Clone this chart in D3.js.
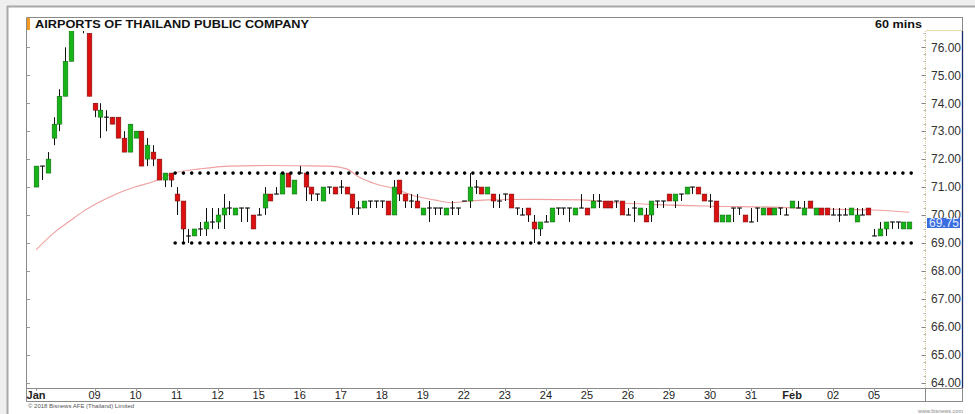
<!DOCTYPE html>
<html><head><meta charset="utf-8">
<script src="https://cdn.jsdelivr.net/npm/d3@7"></script>
<style>
body{margin:0;background:#fff;}
svg{display:block;font-family:"Liberation Sans",Arial,sans-serif;}
</style>
</head><body>
<svg id="chart" width="975" height="414"></svg>
<script>
// ---------------- DATA ----------------
const titleText = "AIRPORTS OF THAILAND PUBLIC COMPANY";
const intervalText = "60 mins";
const copyrightText = "\u00A9 2018 Bisnews AFE (Thailand) Limited";
const siteText = "www.bisnews.com";

const opens = [71.0,71.75,71.5,72.75,73.25,74.25,75.5,76.8,77.0,76.5,
74.0,73.5,73.5,73.5,73.5,72.75,72.25,72.75,73.0,72.0,
72.25,72.0,71.25,71.5,70.75,70.5,69.25,69.25,69.5,69.5,
69.75,69.75,70.0,70.25,70.0,70.25,70.25,70.0,70.0,70.25,
70.75,70.75,70.75,71.5,70.75,71.5,71.5,71.0,70.75,70.5,
71.0,71.0,71.0,71.0,70.75,70.25,70.25,70.5,70.5,70.5,
70.5,70.0,71.25,70.75,70.5,70.5,70.0,70.25,70.25,70.25,
70.0,70.25,70.25,70.5,70.5,71.0,71.0,70.75,70.75,70.5,
70.75,70.75,70.25,70.0,70.25,69.75,69.5,69.75,69.75,70.25,
70.25,70.25,70.0,70.25,70.25,70.25,70.5,70.5,70.5,70.5,
70.5,70.0,70.25,70.0,70.0,70.0,70.5,70.5,70.75,70.5,
70.75,70.75,71.0,71.0,70.75,70.5,70.5,69.75,69.75,70.25,
70.25,70.0,69.75,70.25,70.0,70.25,70.0,70.25,70.0,70.25,
70.25,70.0,70.5,70.0,70.25,70.25,70.0,70.0,70.0,70.0,
69.75,70.0,70.25,69.25,69.25,69.5,69.75,69.75,69.5,69.5];
const highs = [71.75,71.75,72.25,73.5,74.5,76.0,77.0,77.3,77.2,76.5,
74.0,74.0,73.75,73.5,73.5,73.0,73.25,73.0,73.0,72.75,
72.5,72.0,71.5,71.5,71.0,70.5,69.5,69.5,69.75,70.25,
70.25,70.25,70.75,70.5,70.25,70.25,70.25,70.0,70.25,71.0,
70.75,71.0,71.5,71.5,71.25,71.75,71.5,71.0,70.75,71.0,
71.0,71.0,71.25,71.0,70.75,70.5,70.5,70.5,70.5,70.5,
70.5,71.25,71.25,70.75,70.75,70.75,70.25,70.5,70.25,70.25,
70.25,70.5,70.25,70.5,71.5,71.25,71.0,71.0,70.75,70.75,
70.75,70.75,70.25,70.25,70.25,70.0,69.75,70.0,70.25,70.25,
70.25,70.25,70.25,70.75,70.25,70.75,70.75,70.5,70.5,70.5,
70.5,70.25,70.5,70.25,70.25,70.5,70.5,70.5,70.75,70.75,
70.75,71.0,71.0,71.0,70.75,70.75,70.5,70.0,70.0,70.25,
70.25,70.0,70.25,70.25,70.25,70.25,70.25,70.25,70.25,70.5,
70.5,70.5,70.5,70.25,70.25,70.25,70.25,70.25,70.25,70.25,
70.25,70.25,70.25,69.5,69.75,69.75,69.75,69.75,69.75,69.75];
const lows = [71.0,71.25,71.5,72.5,73.0,74.25,75.5,76.7,76.5,74.25,
73.5,72.75,73.0,73.25,72.75,72.25,72.25,72.75,71.75,71.75,
71.75,71.25,71.0,71.0,70.0,69.0,69.0,69.25,69.25,69.25,
69.5,69.5,69.5,70.0,70.0,69.75,69.75,69.5,70.0,70.0,
70.5,70.75,70.75,71.0,70.75,71.5,70.5,70.5,70.5,70.5,
70.75,70.75,70.75,70.75,70.0,70.0,70.25,70.25,70.25,70.25,
70.0,70.0,70.5,70.25,70.25,70.25,70.0,69.75,70.0,70.0,
70.0,70.0,70.0,70.5,70.25,70.75,70.75,70.75,70.25,70.25,
70.5,70.25,70.0,70.0,69.75,69.0,69.25,69.75,69.75,70.0,
70.0,69.75,70.0,70.25,70.0,70.25,70.25,70.25,70.25,70.25,
70.0,70.0,69.75,70.0,69.75,69.75,70.25,70.25,70.5,70.25,
70.5,70.75,70.75,70.75,70.5,70.25,69.75,69.75,69.75,69.75,
70.0,69.75,69.75,69.75,70.0,70.0,70.0,70.0,70.0,70.25,
70.25,70.0,70.25,70.0,70.0,70.0,70.0,69.75,70.0,70.0,
69.75,70.0,70.0,69.25,69.25,69.25,69.5,69.5,69.5,69.5];
const closes = [71.75,71.75,72.0,73.25,74.25,75.5,76.8,77.1,76.8,74.25,
73.75,73.75,73.5,73.25,72.75,72.25,73.25,73.0,71.75,72.5,
72.0,71.25,71.5,71.25,70.5,69.5,69.25,69.5,69.5,69.75,
69.75,70.0,70.25,70.25,70.25,70.25,70.25,69.5,70.0,70.75,
70.5,70.75,71.5,71.0,71.25,71.5,71.0,70.75,70.75,71.0,
71.0,70.75,71.0,70.75,70.25,70.25,70.5,70.5,70.5,70.5,
70.0,71.0,70.75,70.5,70.5,70.25,70.25,70.25,70.25,70.25,
70.25,70.25,70.25,70.5,71.0,71.0,70.75,71.0,70.5,70.5,
70.75,70.25,70.25,70.0,70.0,69.5,69.75,69.75,70.25,70.25,
70.25,70.25,70.25,70.25,70.0,70.5,70.5,70.25,70.25,70.5,
70.0,70.0,70.25,70.25,69.75,70.5,70.5,70.5,70.5,70.75,
70.75,71.0,71.0,70.75,70.5,70.5,69.75,70.0,70.0,70.25,
70.25,69.75,69.75,70.25,70.25,70.0,70.25,70.25,70.0,70.5,
70.25,70.25,70.25,70.25,70.0,70.0,70.0,70.0,70.0,70.25,
70.0,70.0,70.0,69.25,69.5,69.75,69.75,69.75,69.75,69.75];

// moving-average line, read at these bar positions
const maBar   = [0,3,6,8,11,14,17,20,22,24,28,33,40,45,50,53,55,58,61,65,68,71,73,77,85,93,99,105,114,126,137,143,149];
const maValue = [68.75,69.35,69.82,70.12,70.48,70.78,71.01,71.19,71.37,71.52,71.65,71.75,71.77,71.76,71.75,71.65,71.37,71.11,70.95,70.66,70.54,70.44,70.48,70.54,70.56,70.54,70.44,70.38,70.32,70.28,70.2,70.18,70.1];

// day labels on the time axis and the bar where each day starts
const dayLabels   = ["Jan","09","10","11","12","15","16","17","18","19","22","23","24","25","26","29","30","31","Feb","02","05"];
const dayStartBar = [0,10,17,24,31,38,45,52,59,66,73,80,87,94,101,108,115,122,129,136,143];
const monthLabels = ["Jan","Feb"];

const yTickValues = [64,65,66,67,68,69,70,71,72,73,74,75,76];

// dotted range lines
const rangeLevels   = [71.5, 69.0];
const rangeStartBar = 24;
const rangeEndBar   = 149;

const lastPrice = 69.75;

// ---------------- DRAW ----------------
const svg = d3.select("#chart");
const W = 975, H = 414;
const plot = {left: 27, right: 925, top: 31, bottom: 388};

const n = opens.length;
const x = d3.scaleLinear().domain([0, n - 1]).range([36, 909.3]);
const step = x(1) - x(0);
const bodyW = step * 0.8;
const y = d3.scaleLinear().domain([64, 76]).range([382.7, 47.3]);

// outer background / frame
svg.append("rect").attr("x",0).attr("y",0).attr("width",W).attr("height",H).attr("fill","#efefef");
svg.append("rect").attr("x",8).attr("y",7).attr("width",W-8).attr("height",H-7).attr("fill","#fff");
svg.append("line").attr("x1",7).attr("x2",W).attr("y1",6.5).attr("y2",6.5).attr("stroke","#a8a8a8").attr("stroke-width",2);
svg.append("line").attr("x1",7.5).attr("x2",7.5).attr("y1",6).attr("y2",H).attr("stroke","#a8a8a8").attr("stroke-width",2);

// chart box
const box = svg.append("g");
box.append("line").attr("x1",26.5).attr("x2",963).attr("y1",17.5).attr("y2",17.5).attr("stroke","#8a8a8a");
box.append("line").attr("x1",26.5).attr("x2",26.5).attr("y1",17.5).attr("y2",401.5).attr("stroke","#8a8a8a");
box.append("line").attr("x1",962.5).attr("x2",962.5).attr("y1",17.5).attr("y2",31).attr("stroke","#8a8a8a");
box.append("line").attr("x1",962.5).attr("x2",962.5).attr("y1",31).attr("y2",388.5).attr("stroke","#1b2a6e").attr("stroke-width",1.3);
box.append("line").attr("x1",26.5).attr("x2",963).attr("y1",388.5).attr("y2",388.5).attr("stroke","#8a8a8a");
box.append("line").attr("x1",26.5).attr("x2",963).attr("y1",401.5).attr("y2",401.5).attr("stroke","#8a8a8a");
box.append("line").attr("x1",962.5).attr("x2",962.5).attr("y1",388.5).attr("y2",401.5).attr("stroke","#8a8a8a");
box.append("line").attr("x1",925.5).attr("x2",925.5).attr("y1",388.5).attr("y2",401.5).attr("stroke","#8a8a8a");
// y-axis area top border
box.append("line").attr("x1",926).attr("x2",962).attr("y1",30.5).attr("y2",30.5).attr("stroke","#eadca8");
// orange marker
box.append("rect").attr("x",27).attr("y",18).attr("width",3).attr("height",12).attr("fill","#f39a1e");

// header texts
svg.append("text").attr("x",35).attr("y",27.5).attr("font-size",10.5).attr("font-weight","bold")
  .attr("fill","#111").attr("textLength",274).attr("lengthAdjust","spacingAndGlyphs").text(titleText);
svg.append("text").attr("x",875).attr("y",27.5).attr("font-size",10.5).attr("font-weight","bold")
  .attr("fill","#111").attr("textLength",47).attr("lengthAdjust","spacingAndGlyphs").text(intervalText);

// y axis: dotted vertical line + ticks + labels
svg.append("line").attr("x1",925.5).attr("x2",925.5).attr("y1",31).attr("y2",388)
  .attr("stroke","#d9c98c").attr("stroke-dasharray","1,1");
const minorTicks = d3.range(64, 76.6, 0.25);
svg.append("g").selectAll("line").data(minorTicks).join("line")
  .attr("x1",923.5).attr("x2",926).attr("y1",d=>Math.round(y(d))+0.5).attr("y2",d=>Math.round(y(d))+0.5)
  .attr("stroke","#b8b8b8");
svg.append("g").selectAll("line").data(yTickValues).join("line")
  .attr("x1",921.5).attr("x2",926).attr("y1",d=>Math.round(y(d))+0.5).attr("y2",d=>Math.round(y(d))+0.5)
  .attr("stroke","#888");
svg.append("g").selectAll("text").data(yTickValues).join("text")
  .attr("x",961).attr("y",d=>y(d)+4.3).attr("text-anchor","end").attr("font-size",12).attr("fill","#333")
  .text(d=>d3.format(".2f")(d));
// left edge ticks
svg.append("g").selectAll("line").data(yTickValues).join("line")
  .attr("x1",27).attr("x2",30).attr("y1",d=>Math.round(y(d))+0.5).attr("y2",d=>Math.round(y(d))+0.5)
  .attr("stroke","#999");

// x axis labels and ticks
svg.append("g").selectAll("line").data(dayStartBar).join("line")
  .attr("x1",d=>Math.round(x(d))+0.5).attr("x2",d=>Math.round(x(d))+0.5).attr("y1",388.5).attr("y2",391)
  .attr("stroke","#999");
svg.append("g").selectAll("text").data(dayLabels).join("text")
  .attr("x",(d,i)=>x(dayStartBar[i])).attr("y",398.5).attr("text-anchor","middle")
  .attr("font-size",11).attr("font-weight",d=>monthLabels.includes(d)?"bold":"normal").attr("fill","#222")
  .text(d=>d);

// footer texts
svg.append("text").attr("x",28).attr("y",407.5).attr("font-size",6).attr("fill","#555").text(copyrightText);
svg.append("text").attr("x",963).attr("y",413).attr("text-anchor","end").attr("font-size",5.5).attr("fill","#888").text(siteText);

// plot clip
svg.append("clipPath").attr("id","pc").append("rect")
  .attr("x",plot.left).attr("y",plot.top).attr("width",plot.right-plot.left).attr("height",plot.bottom-plot.top);
const g = svg.append("g").attr("clip-path","url(#pc)");

// moving average
const maLine = d3.line().x((d,i)=>x(maBar[i])).y((d,i)=>y(maValue[i])).curve(d3.curveMonotoneX);
g.append("path").datum(maValue).attr("d",maLine).attr("fill","none").attr("stroke","#f0a0a0").attr("stroke-width",1.1);

// candles
const bars = d3.range(n);
const cg = g.append("g");
cg.selectAll("line.wick").data(bars).join("line").attr("class","wick")
  .attr("x1",i=>Math.round(x(i))+0.5).attr("x2",i=>Math.round(x(i))+0.5)
  .attr("y1",i=>y(highs[i])).attr("y2",i=>y(lows[i]))
  .attr("stroke","#111").attr("stroke-width",1);
const bodies = bars.filter(i=>opens[i]!==closes[i]);
cg.selectAll("rect.body").data(bodies).join("rect").attr("class","body")
  .attr("x",i=>Math.round(x(i))+0.5-bodyW/2)
  .attr("y",i=>y(Math.max(opens[i],closes[i])))
  .attr("width",bodyW)
  .attr("height",i=>Math.abs(y(opens[i])-y(closes[i])))
  .attr("fill",i=>closes[i]>opens[i]?"#16b416":"#dd1010")
  .attr("stroke",i=>closes[i]>opens[i]?"#0b5e0b":"#6e0808").attr("stroke-width",0.5);
const dojis = bars.filter(i=>opens[i]===closes[i]);
cg.selectAll("line.doji").data(dojis).join("line").attr("class","doji")
  .attr("x1",i=>Math.round(x(i))+0.5-bodyW/2).attr("x2",i=>Math.round(x(i))+0.5+bodyW/2)
  .attr("y1",i=>y(opens[i])).attr("y2",i=>y(opens[i]))
  .attr("stroke","#111").attr("stroke-width",1.2);

// dotted range lines
g.append("g").selectAll("line").data(rangeLevels).join("line")
  .attr("x1",x(rangeStartBar)-1.5).attr("x2",x(rangeEndBar)+3)
  .attr("y1",d=>y(d)).attr("y2",d=>y(d))
  .attr("stroke","#000").attr("stroke-width",3.6).attr("stroke-linecap","round")
  .attr("stroke-dasharray","0,8.27");

// last price marker (covers part of the neighbouring 70.00 label, as in the source)
const lp = svg.append("g");
lp.append("rect").attr("x",927).attr("y",y(lastPrice)-4).attr("width",33).attr("height",10).attr("fill","#3a6ee0");
lp.append("text").attr("x",959).attr("y",y(lastPrice)+4.8).attr("text-anchor","end").attr("font-size",12)
  .attr("fill","#e8eeff").text(d3.format(".2f")(lastPrice));
</script>
</body></html>
